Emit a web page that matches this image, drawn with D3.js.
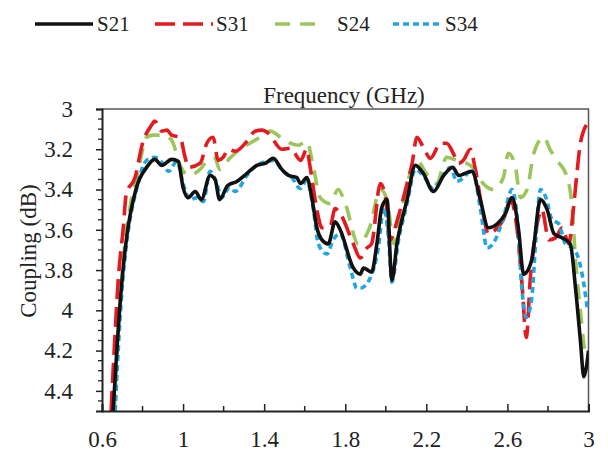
<!DOCTYPE html>
<html><head><meta charset="utf-8">
<script src="https://cdn.jsdelivr.net/npm/d3@7/dist/d3.min.js"></script>
<style>body{margin:0;background:#fff}svg{display:block}svg text{font-family:"Liberation Serif","DejaVu Serif",serif !important;fill:#222}</style>
</head><body>
<script>
const seriesNames = ["S21","S31","S24","S34"];
const xTicks = [0.6,1,1.4,1.8,2.2,2.6,3];
const yTicks = [3,3.2,3.4,3.6,3.8,4,4.2,4.4];

const S21 = [[0.655,4.5],[0.67,4.25],[0.685,4.02],[0.697,3.87],[0.72,3.65],[0.77,3.39],[0.82,3.29],[0.86,3.25],[0.895,3.28],[0.944,3.25],[0.976,3.26],[1.0,3.39],[1.025,3.44],[1.06,3.41],[1.09,3.45],[1.133,3.33],[1.158,3.35],[1.18,3.45],[1.22,3.38],[1.265,3.36],[1.315,3.32],[1.364,3.28],[1.405,3.27],[1.445,3.245],[1.487,3.30],[1.52,3.33],[1.56,3.34],[1.58,3.37],[1.61,3.34],[1.635,3.44],[1.66,3.59],[1.685,3.65],[1.716,3.67],[1.75,3.56],[1.775,3.60],[1.84,3.79],[1.874,3.82],[1.89,3.79],[1.93,3.81],[1.956,3.67],[1.98,3.49],[2.006,3.45],[2.03,3.85],[2.055,3.67],[2.105,3.45],[2.146,3.28],[2.185,3.32],[2.235,3.41],[2.286,3.33],[2.33,3.29],[2.36,3.33],[2.39,3.32],[2.425,3.31],[2.466,3.45],[2.506,3.59],[2.55,3.57],[2.59,3.52],[2.623,3.44],[2.655,3.60],[2.68,3.82],[2.72,3.75],[2.763,3.45],[2.796,3.50],[2.83,3.62],[2.87,3.64],[2.91,3.67],[2.936,3.89],[2.96,4.15],[2.977,4.33],[2.99,4.28],[3.0,4.2]];
const S31 = [[0.645,4.5],[0.66,4.2],[0.68,3.85],[0.705,3.59],[0.72,3.42],[0.763,3.34],[0.8,3.17],[0.845,3.08],[0.86,3.06],[0.895,3.11],[0.92,3.105],[0.944,3.13],[0.985,3.14],[1.01,3.24],[1.026,3.29],[1.084,3.27],[1.117,3.17],[1.148,3.14],[1.173,3.255],[1.198,3.24],[1.223,3.20],[1.257,3.21],[1.315,3.16],[1.355,3.11],[1.39,3.105],[1.42,3.12],[1.487,3.20],[1.53,3.195],[1.58,3.255],[1.61,3.20],[1.627,3.29],[1.66,3.50],[1.685,3.59],[1.726,3.58],[1.75,3.495],[1.775,3.52],[1.84,3.67],[1.874,3.74],[1.907,3.69],[1.93,3.67],[1.973,3.37],[2.0,3.45],[2.02,3.65],[2.06,3.54],[2.105,3.37],[2.13,3.27],[2.153,3.14],[2.185,3.19],[2.22,3.245],[2.27,3.17],[2.30,3.17],[2.333,3.22],[2.36,3.27],[2.383,3.255],[2.417,3.20],[2.44,3.29],[2.48,3.52],[2.506,3.62],[2.55,3.59],[2.58,3.55],[2.615,3.45],[2.648,3.60],[2.672,3.87],[2.693,4.135],[2.713,3.84],[2.747,3.57],[2.77,3.50],[2.804,3.65],[2.837,3.64],[2.87,3.59],[2.903,3.67],[2.92,3.55],[2.936,3.39],[2.96,3.17],[2.977,3.105],[2.99,3.08]];
const S24 = [[0.66,4.5],[0.675,4.2],[0.69,3.95],[0.71,3.70],[0.74,3.48],[0.78,3.30],[0.82,3.14],[0.853,3.13],[0.895,3.13],[0.94,3.15],[0.99,3.29],[1.025,3.33],[1.084,3.30],[1.117,3.26],[1.158,3.245],[1.18,3.30],[1.23,3.245],[1.28,3.20],[1.33,3.17],[1.38,3.14],[1.43,3.11],[1.487,3.145],[1.53,3.17],[1.568,3.18],[1.61,3.16],[1.643,3.29],[1.676,3.44],[1.726,3.47],[1.765,3.40],[1.80,3.47],[1.864,3.67],[1.92,3.59],[1.973,3.40],[2.006,3.45],[2.04,3.67],[2.08,3.49],[2.12,3.32],[2.153,3.255],[2.20,3.32],[2.25,3.37],[2.30,3.24],[2.35,3.255],[2.40,3.27],[2.43,3.29],[2.48,3.37],[2.53,3.40],[2.58,3.34],[2.605,3.22],[2.64,3.29],[2.664,3.44],[2.697,3.40],[2.73,3.22],[2.78,3.14],[2.81,3.20],[2.845,3.255],[2.895,3.34],[2.92,3.50],[2.936,3.75],[2.96,4.0],[2.985,4.2],[3.0,4.17]];
const S34 = [[0.665,4.5],[0.68,4.2],[0.697,3.92],[0.72,3.68],[0.77,3.40],[0.82,3.255],[0.86,3.24],[0.90,3.27],[0.928,3.31],[0.97,3.26],[1.0,3.37],[1.035,3.45],[1.068,3.44],[1.10,3.46],[1.133,3.31],[1.166,3.37],[1.19,3.44],[1.23,3.39],[1.257,3.41],[1.315,3.33],[1.364,3.28],[1.413,3.26],[1.445,3.255],[1.494,3.31],[1.537,3.34],[1.578,3.395],[1.61,3.355],[1.643,3.50],[1.667,3.67],[1.71,3.72],[1.74,3.65],[1.775,3.62],[1.825,3.79],[1.858,3.89],[1.874,3.89],[1.923,3.84],[1.963,3.69],[1.99,3.49],[2.014,3.65],[2.03,3.86],[2.063,3.65],[2.105,3.47],[2.146,3.30],[2.195,3.345],[2.236,3.40],[2.277,3.34],[2.32,3.29],[2.35,3.36],[2.385,3.34],[2.425,3.30],[2.466,3.49],[2.50,3.69],[2.54,3.65],[2.58,3.54],[2.623,3.40],[2.648,3.54],[2.672,3.90],[2.693,4.035],[2.72,3.94],[2.74,3.65],[2.763,3.40],[2.79,3.44],[2.82,3.55],[2.853,3.57],[2.886,3.67],[2.92,3.69],[2.953,3.75],[2.977,3.87],[2.995,4.0]];

const seriesData = [S21,S31,S24,S34];
const styles = [
  {color:"#111111", dash:null},
  {color:"#e31a1f", dash:"20,8"},
  {color:"#9cc55c", dash:"15,10"},
  {color:"#23a6df", dash:"6,4"}
];

const W=608,H=458;
const svg=d3.select("body").append("svg").attr("width",W).attr("height",H);
const x=d3.scaleLinear().domain([0.6,3]).range([102,588.5]);
const y=d3.scaleLinear().domain([3,4.5]).range([109,411]);

svg.append("defs").append("clipPath").attr("id","clip").append("rect")
  .attr("x",102).attr("y",109).attr("width",486.5).attr("height",302);

svg.append("path").attr("d",`M102,${y(3)}H${x(3)}V${y(4.5)}`).attr("fill","none").attr("stroke","#555").attr("stroke-width",1.5);

const line=d3.line().x(d=>x(d[0])).y(d=>y(d[1])).curve(d3.curveMonotoneX);
const g=svg.append("g").attr("clip-path","url(#clip)");
[2,1,3,0].forEach(i=>{
  g.append("path").datum(seriesData[i]).attr("d",line).attr("fill","none")
   .attr("stroke",styles[i].color).attr("stroke-width",3.6)
   .attr("stroke-dasharray",styles[i].dash).attr("stroke-linejoin","round");
});

const yAx=d3.axisLeft(y).tickValues(yTicks).tickSize(6).tickFormat(d=>String(d));
const ya=svg.append("g").attr("transform","translate(102,0)").call(yAx);
ya.attr("font-family",null);
ya.select(".domain").attr("stroke","#222").attr("stroke-width",2);
ya.selectAll(".tick line").attr("stroke","#222").attr("stroke-width",1.5);
ya.selectAll(".tick text").attr("font-size",23).attr("x",-29).attr("fill","#222");
const yMinor=d3.range(3,4.5,0.05).filter(d=>Math.abs(d*5-Math.round(d*5))>0.01);
svg.append("g").selectAll("line").data(yMinor).join("line")
  .attr("x1",98).attr("x2",102).attr("y1",d=>y(d)).attr("y2",d=>y(d)).attr("stroke","#222").attr("stroke-width",1.3);

const xAx=d3.axisBottom(x).tickValues(xTicks).tickSize(-7).tickFormat(d=>String(d));
const xa=svg.append("g").attr("transform",`translate(0,${y(4.5)})`).call(xAx);
xa.attr("font-family",null);
xa.select(".domain").attr("stroke","#222").attr("stroke-width",2);
xa.selectAll(".tick line").attr("stroke","#222").attr("stroke-width",1.5);
xa.selectAll(".tick text").attr("font-size",23).attr("y",20).attr("fill","#222");
const xMinor=d3.range(0.8,3,0.4);
svg.append("g").selectAll("line").data(xMinor).join("line")
  .attr("x1",d=>x(d)).attr("x2",d=>x(d)).attr("y1",y(4.5)).attr("y2",y(4.5)-5).attr("stroke","#222").attr("stroke-width",1.5);

svg.append("text").attr("x",344).attr("y",103).attr("text-anchor","middle").attr("font-size",23).text("Frequency (GHz)");
svg.append("text").attr("transform","translate(36,251) rotate(-90)").attr("text-anchor","middle").attr("font-size",23).text("Coupling (dB)");

const legX=[[35,93,97],[155,213,216],[275,318,337],[393,443,445]];
seriesNames.forEach((n,i)=>{
  svg.append("line").attr("x1",legX[i][0]).attr("x2",legX[i][1]).attr("y1",24).attr("y2",24)
    .attr("stroke",styles[i].color).attr("stroke-width",3.6).attr("stroke-dasharray",styles[i].dash);
  svg.append("text").attr("x",legX[i][2]).attr("y",31).attr("font-size",21).text(n);
});
</script>
</body></html>
